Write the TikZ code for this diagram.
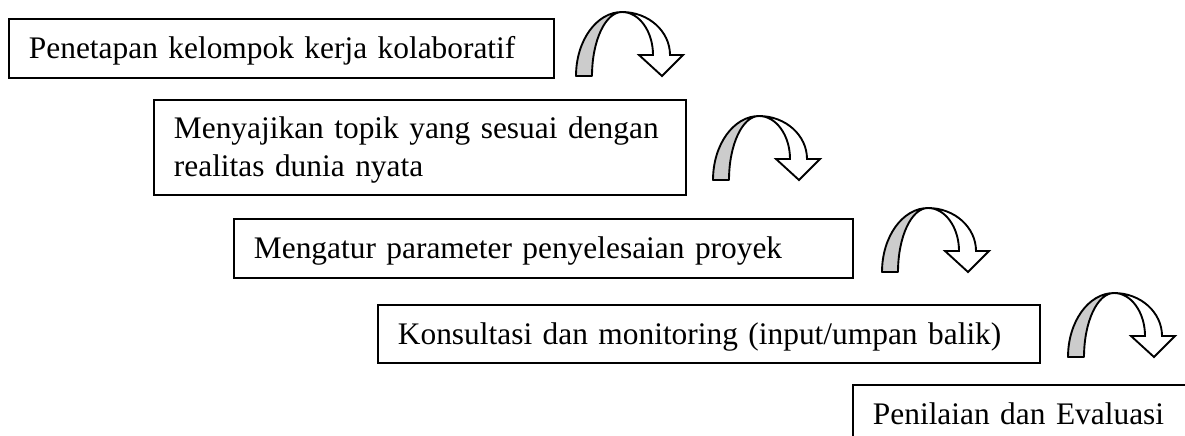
\documentclass[tikz,border=0pt]{standalone}
\usepackage{fontspec}
\setmainfont{Liberation Serif}

\begin{document}
\begin{tikzpicture}[x=0.3727pt, y=-0.3727pt,
    stage/.style={draw, line width=0.7pt, rectangle, anchor=north west,
      inner xsep=7.45pt, inner ysep=0pt, align=left,
      font=\fontsize{11.7}{13.8}\selectfont, text height=9pt, text depth=1.3pt,
      execute at begin node={\hyphenpenalty=10000 }},
    turnarrow/.pic={
      % back of the ribbon
      \filldraw[fill=black!20, line width=0.7pt, line join=round]
        (0,0) arc[start angle=180, end angle=90, x radius=46, y radius=64]
        arc[start angle=90, end angle=180, x radius=30, y radius=64] -- cycle;
      % front of the ribbon with its head
      \filldraw[fill=white, line width=0.7pt, line join=miter]
        (46,64) arc[start angle=90, end angle=0, x radius=48, y radius=43]
        -- (107,21) -- (86,0) -- (63,21) -- (77,21)
        arc[start angle=0, end angle=90, x radius=31, y radius=43] -- cycle;
    }]
    \path[use as bounding box] (0,0) rectangle (1185,435);
    \clip (0,0) rectangle (1185,435);

    % steps
    \node[stage, text width=188.2pt, minimum height=22pt] (penetapan) at (8,18)
      {Penetapan kelompok kerja kolaboratif};
    \node[stage, text width=183.4pt, minimum height=35.4pt,
      text height=9pt, text depth=15.3pt] (topik) at (153,99)
      {Menyajikan topik yang sesuai dengan\\realitas dunia nyata};
    \node[stage, text width=215.8pt, minimum height=22pt] (parameter) at (233,218)
      {Mengatur parameter penyelesaian proyek};
    \node[stage, text width=231.8pt, minimum height=21.6pt] (konsultasi) at (377,304)
      {Konsultasi dan monitoring (input/umpan balik)};
    \node[stage, text width=118.5pt, minimum height=22pt] (penilaian) at (852,384)
      {Penilaian dan Evaluasi};

    % curved arrows between the steps
    \pic[yscale=-1] at (576,76) {turnarrow};
    \pic[yscale=-1] at (713,180) {turnarrow};
    \pic[yscale=-1] at (882,272) {turnarrow};
    \pic[yscale=-1] at (1068,357) {turnarrow};
\end{tikzpicture}
\end{document}
